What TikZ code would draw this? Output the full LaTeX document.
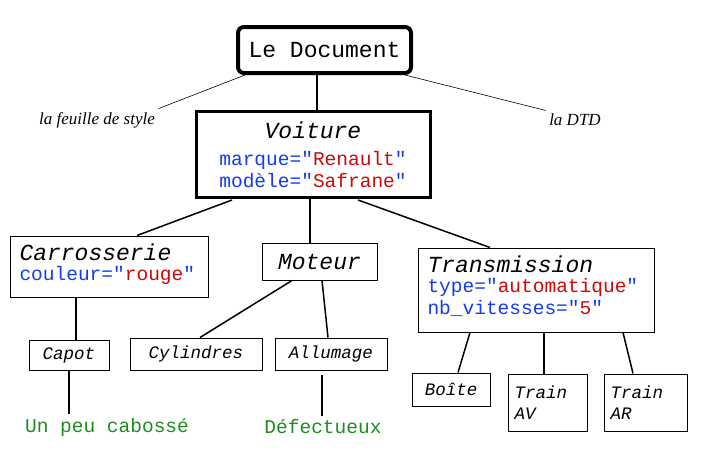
\documentclass[tikz,border=0pt]{standalone}
\usepackage{fontspec}
\setmainfont{Liberation Serif}
\setmonofont{Liberation Mono}
\definecolor{kb}{RGB}{20,60,235}
\definecolor{vr}{RGB}{200,10,10}
\definecolor{gr}{RGB}{30,140,30}
\begin{document}
\begin{tikzpicture}[x=1pt,y=-1pt,
  bx/.style={draw,line width=1pt,inner sep=0pt,align=left},
  mono/.style={font=\fontsize{19.5}{22}\ttfamily},
  ln/.style={line width=1.5pt},
  lab/.style={font=\fontsize{17}{20}\itshape\selectfont}]
\useasboundingbox (0,0) rectangle (703,471);
\newcommand{\att}[2]{\textcolor{kb}{#1="}\textcolor{vr}{#2}\textcolor{kb}{"}}
\node[bx,line width=4pt,rounded corners=6pt,minimum width=173,minimum height=46,font=\fontsize{23}{26}\ttfamily] (doc) at (324.5,50) {Le Document};
\node[bx,line width=3pt,minimum width=234,minimum height=86] (voit) at (313,154) {};
\node[font=\fontsize{23}{26}\ttfamily\itshape] (voitt) at (313,130) {Voiture};
\node[mono,align=left] (voita) at (313,170) {\att{marque}{Renault}\\\att{modèle}{Safrane}};
\node[bx,minimum width=198,minimum height=61] (carr) at (109,266.5) {};
\node[mono,align=left,anchor=north west] (carrt) at (16,240) {{\fontsize{23}{26}\selectfont\itshape Carrosserie}\\[-2pt]\att{couleur}{rouge}};
\node[bx,minimum width=115,minimum height=37,font=\fontsize{23}{26}\ttfamily\itshape] (mot) at (319.5,261.5) {Moteur};
\node[bx,minimum width=236,minimum height=84] (tran) at (536,290) {};
\node[mono,align=left,anchor=north west] (trant) at (424,252) {{\fontsize{23}{26}\selectfont\itshape Transmission}\\[-2pt]\att{type}{automatique}\\\att{nb\_vitesses}{5}};
\node[bx,minimum width=80,minimum height=30,font=\fontsize{17.5}{20}\ttfamily\itshape] (cap) at (69,355) {Capot};
\node[bx,minimum width=132,minimum height=32,font=\fontsize{17.5}{20}\ttfamily\itshape] (cyl) at (196,354) {Cylindres};
\node[bx,minimum width=112,minimum height=32,font=\fontsize{17.5}{20}\ttfamily\itshape] (all) at (331,354) {Allumage};
\node[bx,minimum width=78,minimum height=33,font=\fontsize{17.5}{20}\ttfamily\itshape] (boi) at (451,389.5) {Boîte};
\node[bx,minimum width=79,minimum height=57,font=\fontsize{17.5}{21}\ttfamily\itshape,text width=66] (tav) at (547.5,402.5) {Train\\AV};
\node[bx,minimum width=83,minimum height=57,font=\fontsize{17.5}{21}\ttfamily\itshape,text width=70] (tar) at (645.5,402.5) {Train\\AR};
\node[lab] (fs) at (97,120) {la feuille de style};
\node[lab] (dtd) at (575,120) {la DTD};
\node[mono,text=gr] (cab) at (107,427) {Un peu cabossé};
\node[mono,text=gr] (def) at (323,427) {Défectueux};
\draw[ln] (doc.south -| 317,0) -- (voit.north -| 317,0);
\draw[line width=0.6pt] (245,75) -- (fs.north east);
\draw[line width=0.6pt] (405,75) -- (dtd.north west);
\draw[ln] (232,200) -- (carr.north -| 137,0);
\draw[ln] (voit.south -| 310,0) -- (mot.north -| 310,0);
\draw[ln] (358,200) -- (tran.north -| 490,0);
\draw[ln] (carr.south -| 76,0) -- (cap.north -| 76,0);
\draw[ln] (mot.south -| 292,0) -- (cyl.north -| 200,0);
\draw[ln] (mot.south -| 322,0) -- (all.north -| 328,0);
\draw[ln] (69,370) -- (cab.north -| 69,0);
\draw[ln] (322,375) -- (def.north -| 322,0);
\draw[ln] (tran.south -| 470,0) -- (boi.north -| 458,0);
\draw[ln] (tran.south -| 544,0) -- (tav.north -| 544,0);
\draw[ln] (tran.south -| 623,0) -- (tar.north -| 633,0);
\end{tikzpicture}
\end{document}
